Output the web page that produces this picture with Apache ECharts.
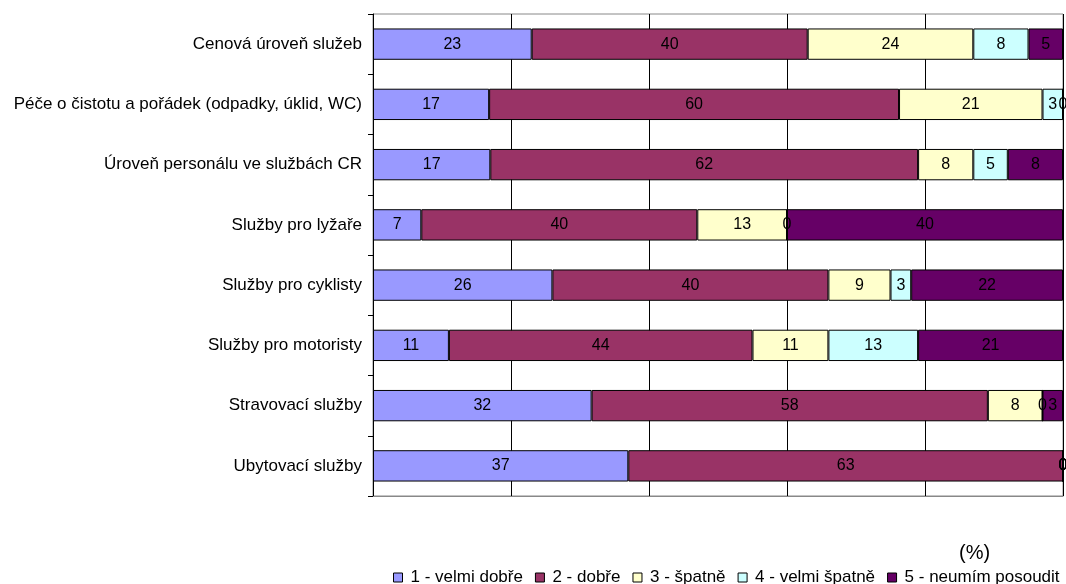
<!DOCTYPE html>
<html><head><meta charset="utf-8">
<script src="https://cdn.jsdelivr.net/npm/echarts@6/dist/echarts.min.js"></script>
<style>html,body{margin:0;padding:0;background:#fff}#c{width:1066px;height:584px}</style>
</head><body><div id="c"></div>
<script>
const categories = ["Cenová úroveň služeb","Péče o čistotu a pořádek (odpadky, úklid, WC)","Úroveň personálu ve službách CR","Služby pro lyžaře","Služby pro cyklisty","Služby pro motoristy","Stravovací služby","Ubytovací služby"];
const seriesNames = ["1 - velmi dobře","2 - dobře","3 - špatně","4 - velmi špatně","5 - neumím posoudit"];
const s1 = [23,17,17,7,26,11,32,37];
const s2 = [40,60,62,40,40,44,58,63];
const s3 = [24,21,8,13,9,11,8,0];
const s4 = [8,3,5,0,3,13,0,0];
const s5 = [5,0,8,40,22,21,3,0];
const xTicks = [0,20,40,60,80,100];
const colors = ["#9999FF","#993366","#FFFFCC","#CCFFFF","#660066"];

const all = [s1,s2,s3,s4,s5];
const sums = categories.map((_,i)=>all.reduce((a,s)=>a+s[i],0));
const series = all.map((s,k)=>({
  name: seriesNames[k], type:'bar', stack:'t', barWidth:'52%',
  itemStyle:{color:colors[k], borderColor:'#000', borderWidth:1},
  label:{show:true, position:'inside', color:'#000', fontFamily:'Liberation Sans', fontSize:16,
    formatter:p=>String(s[p.dataIndex])},
  data: s.map((v,i)=>v/sums[i]*100)
}));

const chart = echarts.init(document.getElementById('c'));
chart.setOption({
  animation:false,
  grid:{left:373,right:3,top:14,bottom:88,show:true,borderColor:'#888',borderWidth:1,containLabel:false},
  xAxis:{type:'value',min:xTicks[0],max:xTicks[xTicks.length-1],interval:20,
    axisLabel:{show:false},axisTick:{show:false},
    axisLine:{show:true,lineStyle:{color:'#888'}},
    splitLine:{show:true,lineStyle:{color:'#000',width:1}}},
  yAxis:{type:'category',inverse:true,data:categories,
    axisLine:{show:true,lineStyle:{color:'#000'}},
    axisTick:{show:true,length:5,lineStyle:{color:'#000'}},
    axisLabel:{color:'#000',fontFamily:'Liberation Sans',fontSize:17,margin:11}},
  legend:{top:569,left:393,itemWidth:9,itemHeight:9,itemGap:12,icon:'rect',padding:0,
    textStyle:{fontFamily:'Liberation Sans',fontSize:17,color:'#000',padding:[0,0,0,3]},
    itemStyle:{borderColor:'#000',borderWidth:1}},
  graphic:[{type:'text',left:959,top:543,style:{text:'(%)',font:'20px Liberation Sans',fill:'#000'}}],
  series
});
</script></body></html>
